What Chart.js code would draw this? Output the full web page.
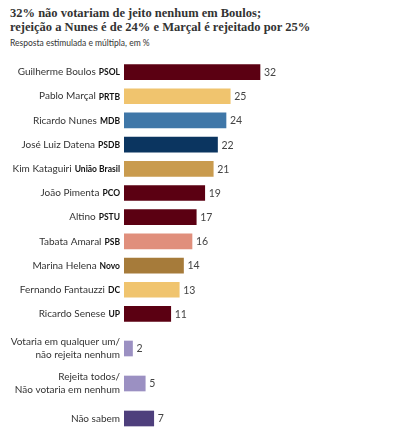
<!DOCTYPE html>
<html>
<head>
<meta charset="utf-8">
<script src="https://cdn.jsdelivr.net/npm/chart.js@4.4.1/dist/chart.umd.min.js"></script>
<style>
  html, body { margin: 0; padding: 0; background: #fff; overflow: hidden; }
  #wrap { position: relative; width: 397px; height: 427px; }
  #title { position: absolute; left: 10px; top: 6px; font: bold 12.5px "Liberation Serif", serif; color: #333; line-height: 14px; }
  #sub { position: absolute; left: 10px; top: 38px; font: 8.5px Lato, sans-serif; color: #333; }
  #c1 { position: absolute; left: 0; top: 60px; }
  #c2 { position: absolute; left: 0; top: 331px; }
</style>
</head>
<body>
<div id="wrap">
  <div id="title">32% não votariam de jeito nenhum em Boulos;<br>rejeição a Nunes é de 24% e Marçal é rejeitado por 25%</div>
  <div id="sub">Resposta estimulada e múltipla, em %</div>
  <canvas id="c1" width="397" height="266"></canvas>
  <canvas id="c2" width="397" height="105"></canvas>
</div>
<script>
// candidatos
const names = ['Guilherme Boulos', 'Pablo Marçal', 'Ricardo Nunes', 'José Luiz Datena', 'Kim Kataguiri',
  'João Pimenta', 'Altino', 'Tabata Amaral', 'Marina Helena', 'Fernando Fantauzzi', 'Ricardo Senese'];
const parties = ['PSOL', 'PRTB', 'MDB', 'PSDB', 'União Brasil', 'PCO', 'PSTU', 'PSB', 'Novo', 'DC', 'UP'];
const values = [32, 25, 24, 22, 21, 19, 17, 16, 14, 13, 11];
const colors = ['#5b0012', '#f0c46e', '#3f77a8', '#0b3560', '#c99b4e', '#5b0012', '#5b0012',
  '#e08f7c', '#a67b3a', '#f0c46e', '#5b0012'];

// outras respostas
const otherNames = ['Votaria em qualquer um/\nnão rejeita nenhum', 'Rejeita todos/\nNão votaria em nenhum', 'Não sabem'];
const otherValues = [2, 5, 7];
const otherColors = ['#9b90c2', '#9b90c2', '#4e3f7c'];

const labelsPlugin = {
  id: 'labelsPlugin',
  afterDraw(chart, args, opts) {
    const ctx = chart.ctx;
    const y = chart.scales.y;
    const meta = chart.getDatasetMeta(0);
    ctx.save();
    ctx.textBaseline = 'middle';
    opts.names.forEach((n, i) => {
      const py = y.getPixelForValue(i);
      let right = 120;
      if (opts.parties) {
        ctx.font = 'bold 8.5px Lato, sans-serif';
        ctx.fillStyle = '#111';
        ctx.textAlign = 'right';
        ctx.fillText(opts.parties[i], right, py + 0.5);
        right -= ctx.measureText(opts.parties[i]).width + 3;
      }
      ctx.font = '10px Lato, sans-serif';
      ctx.fillStyle = '#333';
      ctx.textAlign = 'right';
      const lines = n.split('\n');
      lines.forEach((l, k) => {
        ctx.fillText(l, right, py + (k - (lines.length - 1) / 2) * 13);
      });
      // valor
      const bar = meta.data[i];
      ctx.textAlign = 'left';
      ctx.fillStyle = '#444';
      ctx.font = '10.5px Lato, sans-serif';
      ctx.fillText(chart.data.datasets[0].data[i], bar.x + 4, py + 0.5);
    });
    ctx.restore();
  }
};

function makeChart(id, labels, data, bg, parts) {
  return new Chart(document.getElementById(id), {
    type: 'bar',
    data: {
      labels: labels,
      datasets: [{
        data: data,
        backgroundColor: bg,
        borderWidth: 0,
        barThickness: 15
      }]
    },
    options: {
      indexAxis: 'y',
      responsive: false,
      animation: false,
      layout: { padding: { left: 124, right: 103, top: 0, bottom: 0 } },
      scales: {
        x: { display: false, min: 0, max: 40 },
        y: { display: false }
      },
      plugins: {
        legend: { display: false },
        tooltip: { enabled: false },
        labelsPlugin: { names: labels, parties: parts }
      }
    },
    plugins: [labelsPlugin]
  });
}

makeChart('c1', names, values, colors, parties);
makeChart('c2', otherNames, otherValues, otherColors, null);
</script>
</body>
</html>
